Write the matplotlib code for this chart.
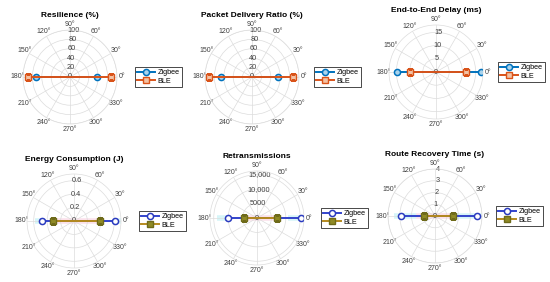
import numpy as np
import matplotlib
matplotlib.use("Agg")
import matplotlib.pyplot as plt

plt.rcParams['font.family'] = ['Liberation Sans', 'DejaVu Sans']

# angles of the two measurements (deg)
angles = [0, 180]
labels = ["Zigbee", "BLE"]

titles = ["Resilience (%)", "Packet Delivery Ratio (%)", "End-to-End Delay (ms)",
          "Energy Consumption (J)", "Retransmissions", "Route Recovery Time (s)"]

# values at [0 deg, 180 deg]
zigbee = [[57, 72], [56, 66], [17, 14.9], [0.61, 0.47], [15200, 9900], [3.6, 2.9]]
ble = [[88, 89], [87, 92], [11.4, 10], [0.385, 0.31], [6800, 4400], [1.5, 0.96]]

rmax = [100, 100, 17.8, 0.7, 16300, 4]
rticks = [[0, 20, 40, 60, 80, 100], [0, 20, 40, 60, 80, 100], [0, 5, 10, 15],
          [0, 0.2, 0.4, 0.6], [0, 5000, 10000, 15000], [0, 1, 2, 3, 4]]
rticklabels = [None, None, None, ["0", "0.2", "0.4", "0.6"],
               ["0", "5000", "10,000", "15,000"], None]

# faint shaded bands in the lower row: BLE band through centre, Zigbee bands
ble_band = {3: [0.38, 0.34], 4: [7000, 5500], 5: [1.7, 1.6]}
zig_band = {3: [(0.61, 0.70), (0.47, 0.58)],
            4: [(10900, 15300), (9900, 13900)],
            5: [(1.9, 4.0), (1.6, 3.5)]}

# layout in pixels: centre x, centre y, radius, legend left x
centres = [(70, 77), (252, 77), (436, 72), (74, 221), (257, 218), (435, 216)]
radius = 47
legend_x = [135, 314, 498, 139, 321, 496]

W, H = 550, 282
fig = plt.figure(figsize=(W / 100, H / 100), dpi=100)

grey = '#404040'
for i in range(6):
    cx, cy = centres[i]
    ax = fig.add_axes([(cx - radius) / W, (H - cy - radius) / H,
                       2 * radius / W, 2 * radius / H], projection='polar')
    top = i < 3
    if top:
        zc, zline, zface = '#0072BD', '#0072BD', '#a9d3ec'
        bc, bline, bface = '#D95319', '#D95319', '#f3c2a4'
    else:
        zc, zline, zface = '#2b3bbf', '#3344cc', 'white'
        bc, bline, bface = '#6e6a1a', '#b58a1e', '#8f8a25'

    th = np.deg2rad([angles[1], angles[1], angles[0], angles[0]])
    if not top:
        bb = ble_band[i]
        ax.plot(th, [bb[1], 0, 0, bb[0]], color='#fbe1eb', lw=4,
                solid_capstyle='butt', zorder=1)
        for k, (a, b) in enumerate(zig_band[i]):
            t = np.deg2rad(angles[k])
            ax.plot([t, t], [a, b], color='#d6f5f8', lw=4,
                    solid_capstyle='butt', zorder=1)

    z = zigbee[i]
    b = ble[i]
    ax.plot(th, [z[1], 0, 0, z[0]], color=zline, lw=1.4, marker='o', ms=4.4,
            mec=zc, mfc=zface, mew=1.1, markevery=[0, 3], label=labels[0], zorder=3)
    ax.plot(th, [b[1], 0, 0, b[0]], color=bline, lw=1.4, marker='s', ms=4.0,
            mec=bc, mfc=bface, mew=1.0, markevery=[0, 3], label=labels[1], zorder=4)

    ax.set_ylim(0, rmax[i])
    ax.set_yticks(rticks[i])
    if rticklabels[i] is not None:
        ax.set_yticklabels(rticklabels[i])
    ax.set_rlabel_position(86)
    ax.set_thetagrids(range(0, 360, 30), [f"{a}\u00b0" for a in range(0, 360, 30)])
    ax.tick_params(axis='x', labelsize=5, labelcolor=grey, pad=-3, length=0)
    ax.tick_params(axis='y', labelsize=5.3, labelcolor=grey, pad=-4)
    for t in ax.get_yticklabels():
        t.set_horizontalalignment('center')
        t.set_verticalalignment('center')
    ax.grid(color='#dcdcdc', lw=0.5)
    ax.spines['polar'].set_color('#dcdcdc')
    ax.spines['polar'].set_linewidth(0.5)
    ax.set_title(titles[i], fontsize=6, fontweight='bold', pad=0,
                 y=0.5 + 60 / (2 * radius))

    ax.legend(loc='center left', bbox_to_anchor=(legend_x[i] / W, 1 - cy / H),
              bbox_transform=fig.transFigure, fontsize=5.2, frameon=True,
              fancybox=False, edgecolor='black', framealpha=1, borderpad=0.3,
              labelspacing=0.15, handlelength=2.4, handletextpad=0.4,
              borderaxespad=0).get_frame().set_linewidth(0.5)

fig.savefig("out.png", dpi=100)
